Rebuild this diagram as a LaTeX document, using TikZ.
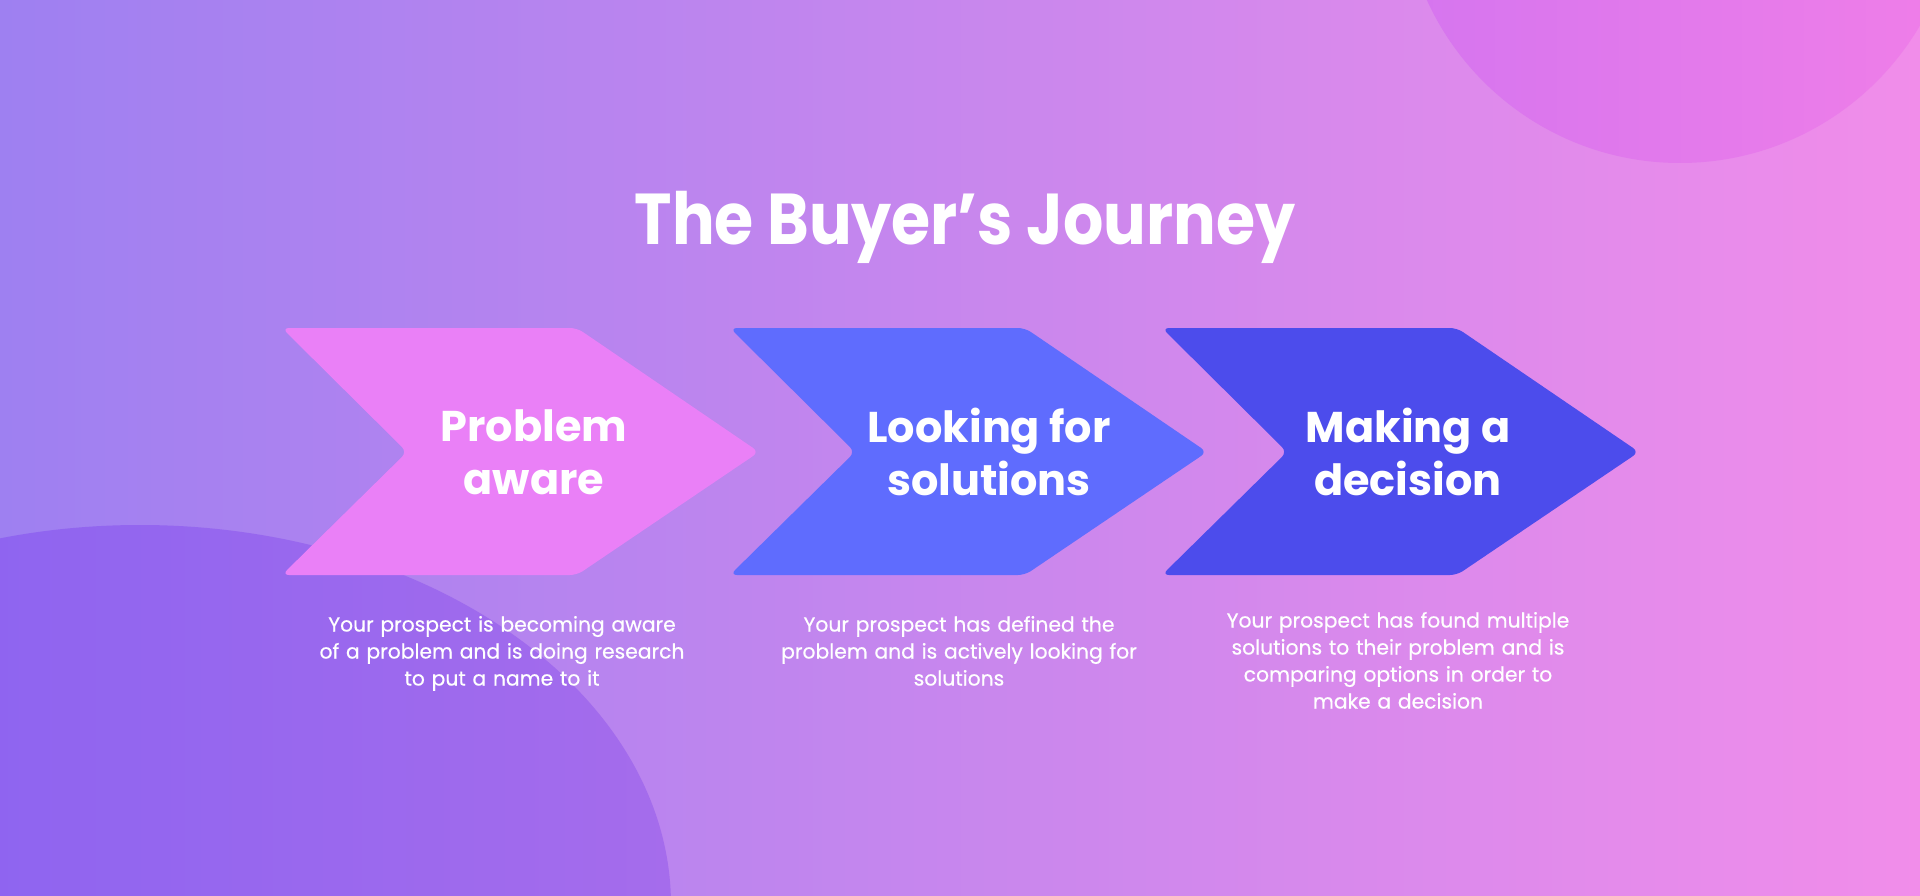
\documentclass[tikz,border=0pt]{standalone}
\usepackage{fontspec}
\newfontfamily\pop{Poppins}
\newfontfamily\popt[FakeStretch=0.88]{Poppins}
\newfontfamily\popd[FakeBold=0.5]{Poppins}
\definecolor{bgL}{HTML}{9E80F1}
\definecolor{bgM}{HTML}{C78AEE}
\definecolor{bgR}{HTML}{F18DEA}
\definecolor{blobAL}{HTML}{D575EF}
\definecolor{blobAR}{HTML}{F07EE8}
\definecolor{blobBL}{HTML}{8260F2}
\definecolor{blobBR}{HTML}{A56CEC}
\definecolor{cOne}{HTML}{EA80F7}
\definecolor{cTwo}{HTML}{5F6CFE}
\definecolor{cThree}{HTML}{4C4CEC}
\tikzset{
  chevron/.pic={\fill[rounded corners=7pt,pic actions] (0,0) -- (295,0) -- (477,124) -- (295,247) -- (0,247) -- (125,124) -- cycle;},
  titletext/.style={font=\popt\bfseries\fontsize{72}{80}\selectfont, text=white, inner sep=0},
  head/.style={font=\pop\bfseries\fontsize{43}{53}\selectfont, text=white, align=center, inner sep=0},
  desc/.style={font=\popd\fontsize{20.3}{27}\selectfont, text=white, align=center, text width=460pt, inner sep=0}
}
\begin{document}
\begin{tikzpicture}[x=1pt,y=-1pt]
\useasboundingbox (0,0) rectangle (1920,896);
\shade[left color=bgL, middle color=bgM, right color=bgR] (0,0) rectangle (1920,896);
\begin{scope}
  \clip (0,0) rectangle (1920,896);
  \shade[left color=blobAL, right color=blobAR] (1680,-115) circle (278pt);
  \shade[left color=blobBL, right color=blobBR] (140,905) ellipse (531pt and 380pt);
\end{scope}
\pic[fill=cOne] (p1) at (282,328) {chevron};
\pic[fill=cTwo] (p2) at (730,328) {chevron};
\pic[fill=cThree] (p3) at (1162,328) {chevron};
\node[titletext, anchor=base] (title) at (965,245) {The Buyer’s Journey};
\node[head] (h1) at (534,452) {Problem\\aware};
\node[head] (h2) at (989,452) {Looking for\\solutions};
\node[head] (h3) at (1408,452) {Making a\\decision};
\node[desc, anchor=base] (d1) at (502,631.5) {Your prospect is becoming aware\\of a problem and is doing research\\to put a name to it};
\node[desc, anchor=base] (d2) at (959,631.5) {Your prospect has defined the\\problem and is actively looking for\\solutions};
\node[desc, anchor=base] (d3) at (1398,627.5) {Your prospect has found multiple\\solutions to their problem and is\\comparing options in order to\\make a decision};
\end{tikzpicture}
\end{document}
